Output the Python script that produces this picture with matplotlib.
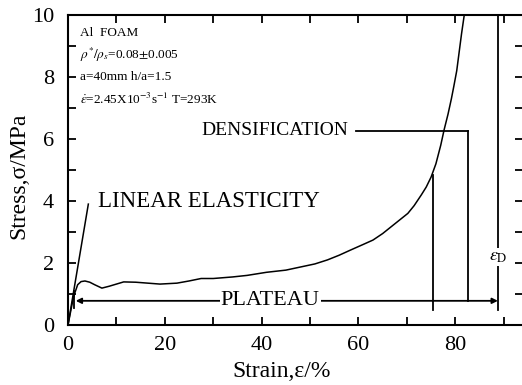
import matplotlib
matplotlib.use("Agg")
import matplotlib.pyplot as plt
from matplotlib.ticker import MultipleLocator

plt.rcParams['font.family'] = ['Liberation Serif', 'DejaVu Serif']
plt.rcParams['mathtext.fontset'] = 'stix'

strain = [0, 0.5, 1.0, 1.4, 2.0, 2.7, 3.5, 4.5, 5.5, 7, 8.5, 10, 11.5, 14, 16.5, 19,
          22.5, 25, 27.5, 30, 34, 37, 41, 45, 48, 51, 53.6, 56, 58.4, 61, 63, 65,
          67, 69, 70.2, 71.5, 73, 74, 75, 76, 77, 77.7, 78.5, 79.2, 79.7, 80.3,
          80.8, 81.3, 81.8, 82.2]
stress = [0, 0.4, 0.8, 1.03, 1.30, 1.40, 1.42, 1.38, 1.30, 1.19, 1.25, 1.32, 1.39, 1.38,
          1.35, 1.32, 1.35, 1.42, 1.5, 1.5, 1.55, 1.6, 1.7, 1.77, 1.87, 1.97, 2.1, 2.25,
          2.42, 2.6, 2.74, 2.95, 3.2, 3.45, 3.6, 3.85, 4.2, 4.45, 4.77, 5.2, 5.8, 6.3,
          6.8, 7.3, 7.7, 8.2, 8.8, 9.4, 9.94, 10.3]

elastic_x = [0, 4.2]
elastic_y = [0, 3.9]

x_ticks = [0, 20, 40, 60, 80]
y_ticks = [0, 2, 4, 6, 8, 10]

info_lines = ["Al  FOAM",
              r"$\rho^{*}/\rho_{s}$=0.08$\pm$0.005",
              "a=40mm h/a=1.5",
              r"$\dot{\varepsilon}$=2.45X10$^{-3}$s$^{-1}$ T=293K"]

fig = plt.figure(figsize=(5.22, 3.85), dpi=100)
ax = fig.add_axes([68/522, 60/385, 1 - 68/522 + 0.002, 310/385])
ax.set_xlim(0, 94)
ax.set_ylim(0, 10)

lw = 1.1
ax.plot(strain, stress, color='black', lw=lw)
ax.plot(elastic_x, elastic_y, color='black', lw=lw)

# plateau arrow line
yp = 0.78
ax.annotate('', xy=(1.6, yp), xytext=(75.4, yp),
            arrowprops=dict(arrowstyle='-|>', color='black', lw=1.3,
                            mutation_scale=8, shrinkA=0, shrinkB=0))
ax.annotate('', xy=(88.8, yp), xytext=(75.4, yp),
            arrowprops=dict(arrowstyle='-|>', color='black', lw=1.3,
                            mutation_scale=8, shrinkA=0, shrinkB=0))
ax.plot([1.3, 1.3], [0.55, 1.1], color='black', lw=1.3)
ax.plot([75.4, 75.4], [0.48, 4.84], color='black', lw=1.3)
ax.plot([82.6, 82.6], [yp, 6.26], color='black', lw=1.3)
ax.plot([59.4, 82.6], [6.26, 6.26], color='black', lw=1.3)
ax.plot([88.8, 88.8], [0.48, 10], color='black', lw=1.3, clip_on=False)

ax.text(41.8, yp, 'PLATEAU', fontsize=16, ha='center', va='center',
        bbox=dict(facecolor='white', edgecolor='none', pad=1))
ax.text(57.8, 6.26, 'DENSIFICATION', fontsize=14, ha='right', va='center')
ax.text(6.2, 3.97, 'LINEAR ELASTICITY', fontsize=16.5, ha='left', va='center')
ax.text(88.8, 2.2, r'$\varepsilon_{\rm D}$', fontsize=13, ha='center', va='center',
        bbox=dict(facecolor='white', edgecolor='none', pad=0.5))

for i, s in enumerate(info_lines):
    ax.text(2.5, 9.42 - i * 0.71, s, fontsize=9.5, ha='left', va='center')

ax.set_xticks(x_ticks)
ax.set_yticks(y_ticks)
ax.xaxis.set_minor_locator(MultipleLocator(10))
ax.yaxis.set_minor_locator(MultipleLocator(1))
ax.tick_params(which='both', direction='in', top=True, right=True,
               labelsize=16, width=1.3)
ax.tick_params(axis='x', pad=8)
ax.tick_params(axis='y', pad=10)
ax.tick_params(which='both', length=6)
ax.spines['right'].set_visible(False)
for s in ['left', 'bottom', 'top']:
    ax.spines[s].set_linewidth(1.5)

ax.set_xlabel('Strain,ε/%', fontsize=17)
ax.xaxis.set_label_coords(0.47, -0.115)
ax.set_ylabel('Stress,σ/MPa', fontsize=17)
ax.yaxis.set_label_coords(-0.085, 0.48)

fig.savefig('out.png', dpi=100)
